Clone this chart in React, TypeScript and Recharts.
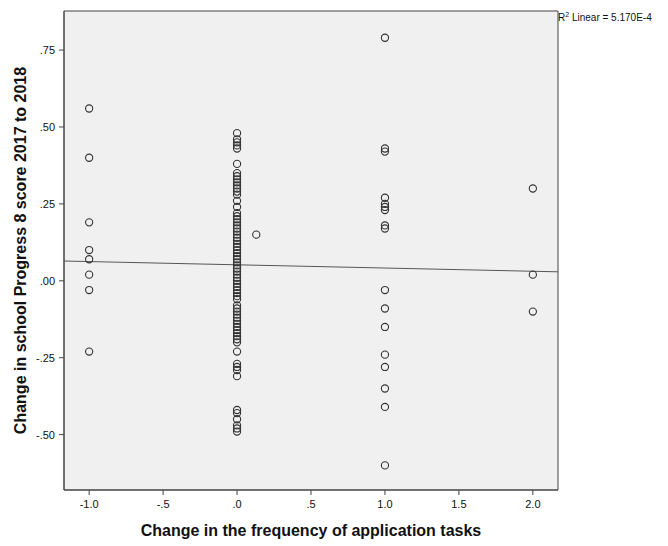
import {
  ScatterChart,
  Scatter,
  XAxis,
  YAxis,
  CartesianGrid,
  ReferenceLine,
  ReferenceArea,
} from "recharts";

// change in frequency of application tasks -> change in Progress 8 score
const groupNeg1 = [0.56, 0.4, 0.19, 0.1, 0.07, 0.02, -0.03, -0.23];
const group0 = [
  0.48, 0.46, 0.45, 0.44, 0.43, 0.38, 0.35, 0.34, 0.33, 0.32, 0.31, 0.3, 0.29,
  0.28, 0.26, 0.24, 0.22, 0.21, 0.2, 0.19, 0.18, 0.17, 0.16, 0.15, 0.14, 0.13,
  0.12, 0.11, 0.1, 0.09, 0.08, 0.07, 0.06, 0.05, 0.04, 0.03, 0.02, 0.01, 0.0,
  -0.01, -0.02, -0.03, -0.04, -0.05, -0.06, -0.08, -0.09, -0.1, -0.11, -0.12,
  -0.13, -0.14, -0.15, -0.16, -0.17, -0.18, -0.19, -0.2, -0.23, -0.27, -0.28,
  -0.29, -0.31, -0.42, -0.43, -0.45, -0.47, -0.48, -0.49,
];
const group1 = [
  0.79, 0.43, 0.42, 0.27, 0.25, 0.24, 0.23, 0.18, 0.17, -0.03, -0.09, -0.15,
  -0.24, -0.28, -0.35, -0.41, -0.6,
];
const group2 = [0.3, 0.02, -0.1];
const extraPoints = [{ x: 0.13, y: 0.15 }];

const xTicks = [-1, -0.5, 0, 0.5, 1, 1.5, 2];
const xTickLabels = ["-1.0", "-.5", ".0", ".5", "1.0", "1.5", "2.0"];
const yTicks = [-0.5, -0.25, 0, 0.25, 0.5, 0.75];
const yTickLabels = ["-.50", "-.25", ".00", ".25", ".50", ".75"];

// linear fit
const fitIntercept = 0.052;
const fitSlope = -0.0105;

const X_DOMAIN: [number, number] = [-1.17, 2.17];
const Y_DOMAIN: [number, number] = [-0.68, 0.877];

const points = [
  ...groupNeg1.map((y) => ({ x: -1, y })),
  ...group0.map((y) => ({ x: 0, y })),
  ...group1.map((y) => ({ x: 1, y })),
  ...group2.map((y) => ({ x: 2, y })),
  ...extraPoints,
];

const FONT = "'Liberation Sans', Arial, sans-serif";

const OpenCircle = (props: any) => {
  const { cx, cy } = props;
  if (cx == null || cy == null) return null;
  return (
    <circle cx={cx} cy={cy} r={3.6} fill="none" stroke="#333" strokeWidth={1.1} />
  );
};

export default function App() {
  return (
    <div
      style={{
        position: "absolute",
        left: 0,
        top: 0,
        width: 668,
        height: 546,
        background: "#fff",
        fontFamily: FONT,
      }}
    >
      <ScatterChart
        width={668}
        height={546}
        margin={{ top: 11, right: 110, bottom: 0, left: 0 }}
      >
        <CartesianGrid
          fill="#f0f0f0"
          horizontal={false}
          vertical={false}
          stroke="none"
        />
        <XAxis
          type="number"
          dataKey="x"
          domain={X_DOMAIN}
          allowDataOverflow
          ticks={xTicks}
          tickFormatter={(v: number) => xTickLabels[xTicks.indexOf(v)] ?? ""}
          height={56}
          tickSize={5}
          tickMargin={5}
          axisLine={{ stroke: "#444" }}
          tickLine={{ stroke: "#444" }}
          tick={{ fontSize: 11, fill: "#111", fontFamily: FONT }}
          label={{
            value: "Change in the frequency of application tasks",
            position: "insideBottom",
            offset: 10,
            style: { fontSize: 16, fontWeight: "bold", fill: "#111", fontFamily: FONT },
          }}
        />
        <YAxis
          type="number"
          dataKey="y"
          domain={Y_DOMAIN}
          allowDataOverflow
          ticks={yTicks}
          tickFormatter={(v: number) => yTickLabels[yTicks.indexOf(v)] ?? ""}
          width={64}
          tickSize={5}
          tickMargin={4}
          axisLine={{ stroke: "#444" }}
          tickLine={{ stroke: "#444" }}
          tick={{ fontSize: 11, fill: "#111", fontFamily: FONT }}
          label={{
            value: "Change in school Progress 8 score 2017 to 2018",
            angle: -90,
            position: "insideLeft",
            offset: 20,
            style: {
              fontSize: 16,
              fontWeight: "bold",
              fill: "#111",
              fontFamily: FONT,
              textAnchor: "middle",
            },
          }}
        />
        <ReferenceArea
          x1={X_DOMAIN[0]}
          x2={X_DOMAIN[1]}
          y1={Y_DOMAIN[0]}
          y2={Y_DOMAIN[1]}
          fill="none"
          fillOpacity={0}
          stroke="#444"
          strokeWidth={1}
        />
        <ReferenceLine
          segment={[
            { x: X_DOMAIN[0], y: fitIntercept + fitSlope * X_DOMAIN[0] },
            { x: X_DOMAIN[1], y: fitIntercept + fitSlope * X_DOMAIN[1] },
          ]}
          stroke="#555"
          strokeWidth={1}
        />
        <Scatter data={points} shape={OpenCircle} isAnimationActive={false} />
      </ScatterChart>
      <div
        style={{
          position: "absolute",
          left: 558,
          top: 12,
          fontSize: 10,
          lineHeight: "12px",
          color: "#111",
          whiteSpace: "nowrap",
          fontFamily: FONT,
        }}
      >
        R<sup style={{ fontSize: 7, lineHeight: 0 }}>2</sup> Linear = 5.170E-4
      </div>
    </div>
  );
}
